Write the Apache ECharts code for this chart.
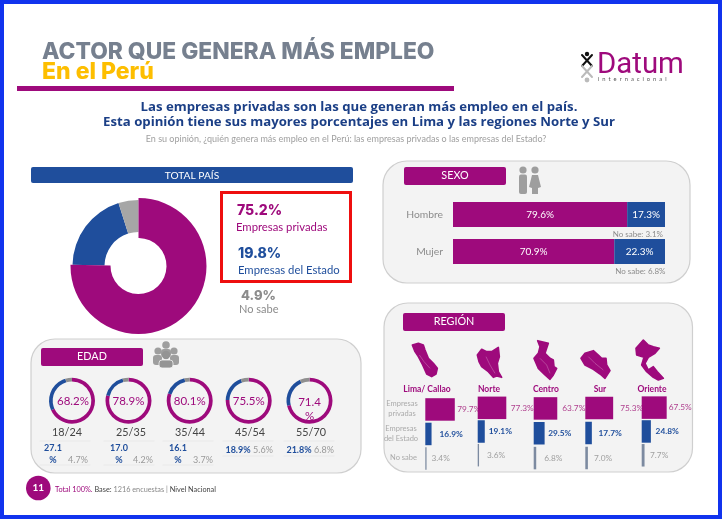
<!DOCTYPE html>
<html><head><meta charset="utf-8">
<style>html,body{margin:0;padding:0;background:#fff}#c{width:722px;height:520px}</style>
<script src="https://cdn.jsdelivr.net/npm/echarts@6/dist/echarts.min.js"></script>
</head><body><div id="c"></div>
<script>
// ---- data ----
const totalNames = ['Empresas privadas', 'Empresas del Estado', 'No sabe'];
const totalValues = [75.2, 19.8, 4.9];
const ageGroups = ['18/24', '25/35', '35/44', '45/54', '55/70'];
const agePrivadas = [68.2, 78.9, 80.1, 75.5, 71.4];
const ageEstado = [27.1, 17.0, 16.1, 18.9, 21.8];
const ageNoSabe = [4.7, 4.2, 3.7, 5.6, 6.8];
const sexGroups = ['Hombre', 'Mujer'];
const sexPrivadas = [79.6, 70.9];
const sexEstado = [17.3, 22.3];
const sexNoSabe = [3.1, 6.8];
const regions = ['Lima/ Callao', 'Norte', 'Centro', 'Sur', 'Oriente'];
const regionPrivadas = [79.7, 77.3, 63.7, 75.3, 67.5];
const regionEstado = [16.9, 19.1, 29.5, 17.7, 24.8];
const regionNoSabe = [3.4, 3.6, 6.8, 7.0, 7.7];

// ---- style ----
const MAG = '#9e0a7c', BLUE = '#1f4e9c', GREY = '#a6a6a6', SLATE = '#7c8aa0';
const LATO = 'Lato, "Open Sans", sans-serif';
const HEAD = 'Inter, "Open Sans", sans-serif';
const fmt = v => v.toFixed(1) + '%';

// ---- layout ----
const ageCx = [72, 128.5, 189.7, 248.7, 309.5];
const ageLabelX = [67, 131, 190, 250, 311];
const ageEstadoX = [53, 119, 178, 238, 299];
const ageNoSabeX = [78, 143, 203, 263, 324];
const regionCx = [427, 489, 546, 600, 652];
const regionGrid = [[425.3, 397.2, 73.5], [477.7, 396, 71], [533.7, 396, 74.5], [585.3, 395.5, 75], [641.7, 395.7, 71.5]];
const gapPriv = [2.5, 4.4, 5, 7, 2];
const gapEst = [8, 4, 3.6, 6.7, 4.7];
const gapNs = [5, 8, 8, 6, 5.5];

const gfx = [];
function text(x, y, t, size, fill, opt) {
  gfx.push({type: 'text', x, y, z: 20, silent: true, style: {
    text: t, font: (opt && opt.weight || 'normal') + ' ' + size + 'px ' + (opt && opt.family || LATO),
    fill, textAlign: opt && opt.align || 'center', textVerticalAlign: 'middle'
  }});
}
function rect(x, y, w, h, fill, r, extra) {
  gfx.push({type: 'rect', z: (extra && extra.z) || 1, silent: true, shape: {x, y, width: w, height: h, r: r || 0},
    style: Object.assign({fill}, extra && extra.style)});
}
function panel(x, y, w, h) {
  rect(x, y, w, h, '#f3f3f3', 24, {style: {stroke: '#cfcfcf', lineWidth: 1.2}});
}
function poly(ox, oy, pts, fill) {
  gfx.push({type: 'polygon', z: 3, silent: true, shape: {points: pts.map(p => [ox + p[0] / 3, oy + p[1] / 3])}, style: {fill: fill || MAG, stroke: fill || MAG, lineWidth: 1.6, lineJoin: 'round'}});
}
function seam(ox, oy, pts) {
  gfx.push({type: 'polyline', z: 4, silent: true, shape: {points: pts.map(p => [ox + p[0] / 3, oy + p[1] / 3])}, style: {stroke: 'rgba(255,255,255,.4)', fill: null, lineWidth: 0.6}});
}
function circle(cx, cy, r, fill, z) {
  gfx.push({type: 'circle', z: z || 3, silent: true, shape: {cx, cy, r}, style: {fill}});
}
function line(x1, y1, x2, y2, stroke, w, z) {
  gfx.push({type: 'line', z: z || 3, silent: true, shape: {x1, y1, x2, y2}, style: {stroke, lineWidth: w || 1, lineCap: 'round'}});
}

// frame
gfx.push({type: 'rect', z: 0, silent: true, shape: {x: 2, y: 2, width: 718, height: 515}, style: {fill: '#fff', stroke: '#1133ee', lineWidth: 4}});

// header
text(42, 52, 'ACTOR QUE GENERA MÁS EMPLEO', 22.8, '#76808f', {align: 'left', weight: '800', family: HEAD});
text(42, 72, 'En el Perú', 23, '#fdbe00', {align: 'left', weight: '800', family: HEAD});
rect(17, 86, 437, 5, MAG);
text(359, 107, 'Las empresas privadas son las que generan más empleo en el país.', 13.2, '#1b3f86', {weight: '700', family: '"Open Sans", sans-serif'});
text(359, 122, 'Esta opinión tiene sus mayores porcentajes en Lima y las regiones Norte y Sur', 13.2, '#1b3f86', {weight: '700', family: '"Open Sans", sans-serif'});
text(346, 139, 'En su opinión, ¿quién genera más empleo en el Perú: las empresas privadas o las empresas del Estado?', 9, '#a0a0a0');

// logo
circle(587, 54, 2.2, '#111');
line(582, 55, 592, 66, '#111', 2); line(592, 55, 582, 66, '#111', 2);
line(582, 66, 592, 77, '#bbb', 2); line(592, 66, 582, 77, '#bbb', 2);
circle(587, 80, 2.4, '#bbb');
text(597, 66, 'Datum', 29.4, MAG, {align: 'left', family: 'Roboto, sans-serif'});
text(598, 79.5, 'i  n  t  e  r  n  a  c  i  o  n  a  l', 5.8, '#555', {align: 'left'});

// total país
rect(31, 167, 322, 16, BLUE, 2);
text(192, 175.5, 'TOTAL PAÍS', 10.2, '#fff');
gfx.push({type: 'rect', z: 2, silent: true, shape: {x: 221.5, y: 192.5, width: 129, height: 89}, style: {fill: '#fff', stroke: '#ee0f0f', lineWidth: 3}});
text(237, 211, fmt(totalValues[0]), 14, MAG, {align: 'left', weight: '800', family: HEAD});
text(236, 227, totalNames[0], 11.3, MAG, {align: 'left'});
text(238, 254, fmt(totalValues[1]), 14, BLUE, {align: 'left', weight: '800', family: HEAD});
text(238, 270, totalNames[1], 11.3, BLUE, {align: 'left'});
text(241, 296, fmt(totalValues[2]), 13, '#8c8c8c', {align: 'left', weight: '800', family: HEAD});
text(239, 309, totalNames[2], 11, '#8c8c8c', {align: 'left'});

// edad
panel(31, 339, 330, 134);
rect(41, 348, 102, 18, MAG, 2, {z: 2});
text(92, 357, 'EDAD', 10.8, '#fff');
[[166, 345, 3.8], [158, 351, 3.6], [174, 351, 3.6], [166, 355, 4.2]].forEach((h, i) => {
  circle(h[0], h[1], h[2], i === 3 ? '#949494' : '#9e9e9e', 3 + (i === 3 ? 2 : 0));
});
rect(161, 349, 10, 8, '#9e9e9e', 3, {z: 3});
rect(153, 355, 9, 10, '#9e9e9e', 3, {z: 3});
rect(170, 355, 9, 10, '#9e9e9e', 3, {z: 3});
rect(159, 360, 14, 8, '#949494', 3, {z: 5, style: {stroke: '#f3f3f3', lineWidth: 0.8}});
ageGroups.forEach((g, i) => {
  if (i === 4) {
    text(ageCx[i], 402, agePrivadas[i].toFixed(1), 11.5, MAG);
    text(ageCx[i], 416, '%', 11.5, MAG);
  } else {
    text(ageCx[i] + (i === 0 ? 1 : 0), 401, fmt(agePrivadas[i]), 11.5, MAG);
  }
  text(ageLabelX[i], 433, g, 10.8, '#444');
  const tall = i < 3;
  line(ageLabelX[i] - 27, 441, ageLabelX[i] + 23, 441, '#e6e6e6', 0.8, 2);
  line(ageLabelX[i] - 27, tall ? 465 : 456, ageLabelX[i] + 23, tall ? 465 : 456, '#e6e6e6', 0.8, 2);
  if (tall) {
    text(ageEstadoX[i], 448, ageEstado[i].toFixed(1), 9, BLUE, {weight: '700'});
    text(ageEstadoX[i], 460, '%', 9, BLUE, {weight: '700'});
    text(ageNoSabeX[i], 460, fmt(ageNoSabe[i]), 9, '#999');
  } else {
    text(ageEstadoX[i], 450.5, fmt(ageEstado[i]), 9, BLUE, {weight: '700'});
    text(ageNoSabeX[i], 450.5, fmt(ageNoSabe[i]), 9, '#999');
  }
});

// footer
circle(38.3, 488, 12.3, MAG);
text(38.3, 488, '11', 10, '#fff', {weight: '700'});
gfx.push({type: 'text', x: 55, y: 490, z: 20, silent: true, style: {
  text: '{a|Total 100%.} {b|Base:} {c|1216 encuestas} {c||} {b|Nivel Nacional}', textAlign: 'left', textVerticalAlign: 'middle',
  font: '7.3px Lato', rich: {a: {fill: MAG, font: '7.3px Lato'}, b: {fill: '#444', font: '7.3px Lato'}, c: {fill: '#888', font: '7.3px Lato'}}
}});

// sexo
panel(383, 161, 307, 122);
rect(404, 167, 102, 18, MAG, 2, {z: 2});
text(455, 176, 'SEXO', 10.8, '#fff');
circle(523, 170, 3.6, '#9e9e9e'); circle(535, 170, 3.6, '#9e9e9e');
rect(519, 174.5, 8, 19.5, '#9e9e9e', 2);
gfx.push({type: 'polygon', z: 3, silent: true, shape: {points: [[532, 175], [538, 175], [541, 187], [538, 188], [538, 194], [532, 194], [532, 188], [529, 187]]}, style: {fill: '#9e9e9e'}});
text(663, 234, 'No sabe: ' + fmt(sexNoSabe[0]), 8, '#8c8c8c', {align: 'right'});
text(665.5, 271, 'No sabe: ' + fmt(sexNoSabe[1]), 8, '#8c8c8c', {align: 'right'});

// región
panel(384, 303, 308.5, 169);
rect(403, 313, 102, 18, MAG, 2, {z: 2});
text(454, 322, 'REGIÓN', 10.8, '#fff');
regions.forEach((r, i) => text(regionCx[i], 389, r, 8.5, MAG, {weight: '700'}));
text(402, 404, 'Empresas', 7.5, '#aaa'); text(402, 414, 'privadas', 7.5, '#aaa');
text(401, 429, 'Empresas', 7.5, '#aaa'); text(401, 439, 'del Estado', 7.5, '#aaa');
text(417, 458, 'No sabe', 7.5, '#aaa', {align: 'right'});

// silhouettes (decorative)
poly(380, 300, [[97,135],[115,130],[130,135],[135,150],[145,175],[160,190],[172,205],[168,222],[155,230],[140,222],[128,195],[115,170],[105,155]]);
seam(380, 300, [[118,165],[132,185],[150,205]]);
poly(380, 300, [[292,165],[305,148],[320,155],[335,155],[355,142],[358,170],[352,190],[355,215],[365,232],[350,228],[340,232],[325,215],[305,200],[297,185]]);
seam(380, 300, [[318,170],[330,195],[345,220]]);
poly(380, 300, [[473,122],[505,130],[500,145],[495,160],[510,175],[520,180],[522,200],[530,205],[520,225],[510,238],[495,225],[475,205],[462,175],[475,160],[480,140]]);
seam(380, 300, [[480,175],[500,195],[510,220]]);
poly(380, 300, [[603,175],[615,160],[640,152],[655,165],[665,175],[678,175],[680,195],[690,212],[675,235],[660,222],[640,208],[615,195]]);
seam(380, 300, [[625,170],[645,190],[670,210]]);
poly(380, 300, [[768,145],[790,120],[805,135],[820,140],[838,145],[825,160],[805,172],[795,190],[805,210],[820,200],[832,215],[850,235],[835,240],[820,232],[800,215],[785,195],[792,172],[770,165]]);

// ---- series, grids, axes ----
const series = [], grid = [], xAxis = [], yAxis = [];

const totalColors = [MAG, BLUE, GREY];
const totalData = (show) => totalValues.map((v, i) => ({
  value: v, name: totalNames[i], itemStyle: {color: show(i) ? totalColors[i] : 'transparent'}
}));
const pieBase = {type: 'pie', center: [138.5, 266], startAngle: 90, silent: true, label: {show: false}, labelLine: {show: false}, z: 3, animation: false, clockwise: true};
series.push(Object.assign({}, pieBase, {radius: [34, 66], data: totalData(i => i > 0)}));
series.push(Object.assign({}, pieBase, {radius: [28, 68], data: totalData(i => i === 0)}));

ageGroups.forEach((g, i) => {
  series.push(Object.assign({}, pieBase, {
    center: [ageCx[i], 400.7], radius: [19.3, 23],
    data: [
      {value: agePrivadas[i], name: 'Empresas privadas', itemStyle: {color: MAG}},
      {value: ageEstado[i], name: 'Empresas del Estado', itemStyle: {color: BLUE}},
      {value: ageNoSabe[i], name: 'No sabe', itemStyle: {color: '#8f8f8f'}}
    ]
  }));
});

// sexo: each row spans the width of its own privadas + estado total
sexGroups.forEach((g, i) => {
  const top = i === 0 ? 202 : 239;
  grid.push({left: 453, top, width: 212, height: 25, z: 10});
  const k = grid.length - 1;
  xAxis.push({type: 'value', gridIndex: k, min: 0, max: sexPrivadas[i] + sexEstado[i], show: false});
  yAxis.push({type: 'category', gridIndex: k, data: [g], z: 10, axisLine: {show: false}, axisTick: {show: false},
    axisLabel: {color: '#8c8c8c', fontSize: 10.3, fontFamily: LATO, margin: 10}});
  [[sexPrivadas[i], MAG], [sexEstado[i], BLUE]].forEach(p => {
    series.push({type: 'bar', xAxisIndex: k, yAxisIndex: k, stack: 's' + i, barWidth: 25, silent: true, z: 3,
      data: [{value: p[0], itemStyle: {color: p[1]}}],
      label: {show: true, position: 'inside', color: '#fff', fontSize: 10, fontFamily: LATO, formatter: o => fmt(o.value)}});
  });
});

// región
const rowColors = [MAG, BLUE, SLATE];
const rowLabel = ['#b0418f', BLUE, '#a0a0a0'];
regions.forEach((r, i) => {
  const g = regionGrid[i];
  grid.push({left: g[0], top: g[1], width: 37, height: g[2]});
  const k = grid.length - 1;
  xAxis.push({type: 'value', gridIndex: k, min: 0, max: 100, show: false});
  yAxis.push({type: 'category', gridIndex: k, inverse: true, show: false, data: totalNames});
  const vals = [regionPrivadas[i], regionEstado[i], regionNoSabe[i]];
  const gaps = [gapPriv[i], gapEst[i], gapNs[i]];
  series.push({type: 'bar', xAxisIndex: k, yAxisIndex: k, barWidth: 22.5, silent: true, z: 3 + i,
    data: vals.map((v, j) => ({
      value: v, itemStyle: {color: rowColors[j]},
      label: {show: true, position: 'right', distance: gaps[j], color: rowLabel[j], fontSize: 8.3,
        fontWeight: j === 1 ? 700 : 400, fontFamily: LATO, formatter: o => fmt(o.value)}
    }))});
});

const chart = echarts.init(document.getElementById('c'), null, {renderer: 'canvas'});
chart.setOption({animation: false, backgroundColor: '#fff', tooltip: {show: false}, legend: {show: false},
  grid, xAxis, yAxis, series, graphic: {elements: gfx}});
</script></body></html>
